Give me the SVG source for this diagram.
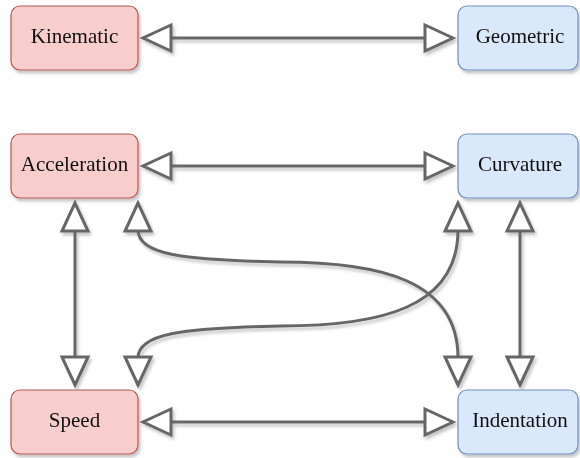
<svg xmlns="http://www.w3.org/2000/svg" width="580" height="458" viewBox="0 0 580 458">
<style>
.red{fill:#f8cecc;stroke:#b85450;stroke-width:1.2}
.blue{fill:#dae8fc;stroke:#6c8ebf;stroke-width:1.2}
.lbl{font-family:"Liberation Serif","Times New Roman",serif;font-size:21px;fill:#111;text-anchor:middle}
.edge{fill:none;stroke:#666;stroke-width:3;marker-start:url(#arr);marker-end:url(#arr)}
</style>
<defs>
<filter id="sh" x="-20%" y="-20%" width="140%" height="140%">
<feDropShadow dx="2" dy="3" stdDeviation="1.5" flood-color="#000" flood-opacity="0.22"/>
</filter>
<marker id="arr" markerUnits="userSpaceOnUse" viewBox="-34 -18 38 36" markerWidth="38" markerHeight="36" refX="0" refY="0" orient="auto-start-reverse" overflow="visible">
<path d="M0,0 L-28,-13 L-28,13 Z" fill="#fff" stroke="#666" stroke-width="3" stroke-linejoin="miter"/>
</marker>
</defs>
<g id="connectors" filter="url(#sh)">
<path class="edge" d="M143,38 L453,38"/>
<path class="edge" d="M143,166 L453,166"/>
<path class="edge" d="M143,422 L453,422"/>
<path class="edge" d="M75,203 L75,385"/>
<path class="edge" d="M520,203 L520,385"/>
<path class="edge" d="M138,203 L138,230 C138,254 180,260 280,262 C380,262 458,280 458,358 L458,385"/>
<path class="edge" d="M138,385 L138,358 C138,334 180,328 280,326 C380,326 458,308 458,230 L458,203"/>
</g>
<g id="kinematic" filter="url(#sh)">
<rect class="red" x="11" y="6" width="127" height="64" rx="9"/>
<text class="lbl" x="74.5" y="43">Kinematic</text>
</g>
<g id="geometric" filter="url(#sh)">
<rect class="blue" x="458" y="6" width="120" height="64" rx="9"/>
<text class="lbl" x="520" y="43">Geometric</text>
</g>
<g id="acceleration" filter="url(#sh)">
<rect class="red" x="11" y="134" width="127" height="64" rx="9"/>
<text class="lbl" x="74.5" y="171">Acceleration</text>
</g>
<g id="curvature" filter="url(#sh)">
<rect class="blue" x="458" y="134" width="120" height="64" rx="9"/>
<text class="lbl" x="520" y="171">Curvature</text>
</g>
<g id="speed" filter="url(#sh)">
<rect class="red" x="11" y="390" width="127" height="64" rx="9"/>
<text class="lbl" x="74.5" y="427">Speed</text>
</g>
<g id="indentation" filter="url(#sh)">
<rect class="blue" x="458" y="390" width="120" height="64" rx="9"/>
<text class="lbl" x="520" y="427">Indentation</text>
</g>
</svg>
